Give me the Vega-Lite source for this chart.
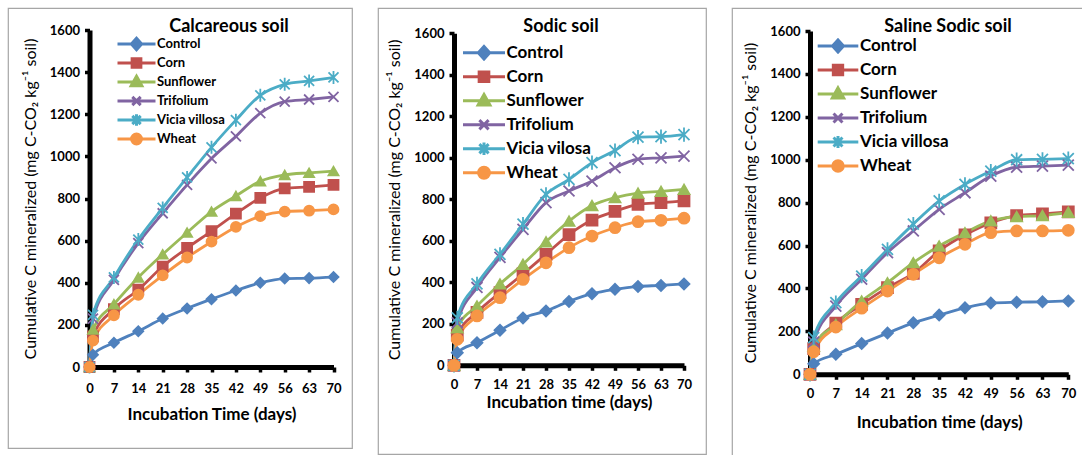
{
  "$schema": "https://vega.github.io/schema/vega-lite/v6.json",
  "padding": {"left": 7, "top": 7, "right": 0, "bottom": 0},
  "spacing": 24,
  "resolve": {"scale": {"color": "independent", "fill": "independent", "stroke": "independent", "shape": "independent"}, "legend": {"color": "independent", "fill": "independent", "stroke": "independent", "shape": "independent"}},
  "config": {
    "view": {"stroke": "#a6a6a6", "strokeWidth": 1.2},
    "font": "Lato",
    "axis": {"grid": false, "domain": true, "ticks": true, "labelFlush": false, "tickSize": 5, "domainColor": "#000000", "domainWidth": 5, "tickColor": "#000000", "tickWidth": 3.5, "labelColor": "#000000", "labelFont": "Lato", "labelFontWeight": "bold", "labelFontSize": 13, "titleColor": "#000000", "titleFont": "Lato"},
    "axisX": {"titleFontWeight": "bold", "titleFontSize": 17, "labelPadding": 8, "titlePadding": 9},
    "axisY": {"titleFontWeight": "normal", "titleFontSize": 16, "labelPadding": 5, "titlePadding": 11},
    "legend": {"labelFont": "Lato", "labelFontWeight": "bold", "labelColor": "#000000", "symbolStrokeWidth": 3, "symbolOpacity": 1, "padding": 0, "rowPadding": 0, "labelOffset": 0},
    "title": {"font": "Lato", "fontWeight": "bold", "color": "#000000", "fontSize": 18}
  },
  "datasets": {
    "calc": [
      {"d":0,"s":"Control","v":0},{"d":1,"s":"Control","v":58},{"d":7,"s":"Control","v":115},{"d":14,"s":"Control","v":170},{"d":21,"s":"Control","v":230},{"d":28,"s":"Control","v":278},{"d":35,"s":"Control","v":322},{"d":42,"s":"Control","v":363},{"d":49,"s":"Control","v":400},{"d":56,"s":"Control","v":420},{"d":63,"s":"Control","v":422},{"d":70,"s":"Control","v":427},
      {"d":0,"s":"Corn","v":0},{"d":1,"s":"Corn","v":145},{"d":7,"s":"Corn","v":275},{"d":14,"s":"Corn","v":367},{"d":21,"s":"Corn","v":477},{"d":28,"s":"Corn","v":565},{"d":35,"s":"Corn","v":645},{"d":42,"s":"Corn","v":728},{"d":49,"s":"Corn","v":803},{"d":56,"s":"Corn","v":848},{"d":63,"s":"Corn","v":855},{"d":70,"s":"Corn","v":865},
      {"d":0,"s":"Sunflower","v":0},{"d":1,"s":"Sunflower","v":178},{"d":7,"s":"Sunflower","v":298},{"d":14,"s":"Sunflower","v":425},{"d":21,"s":"Sunflower","v":535},{"d":28,"s":"Sunflower","v":638},{"d":35,"s":"Sunflower","v":738},{"d":42,"s":"Sunflower","v":812},{"d":49,"s":"Sunflower","v":882},{"d":56,"s":"Sunflower","v":912},{"d":63,"s":"Sunflower","v":922},{"d":70,"s":"Sunflower","v":930},
      {"d":0,"s":"Trifolium","v":0},{"d":1,"s":"Trifolium","v":230},{"d":7,"s":"Trifolium","v":414},{"d":14,"s":"Trifolium","v":588},{"d":21,"s":"Trifolium","v":730},{"d":28,"s":"Trifolium","v":865},{"d":35,"s":"Trifolium","v":990},{"d":42,"s":"Trifolium","v":1095},{"d":49,"s":"Trifolium","v":1205},{"d":56,"s":"Trifolium","v":1260},{"d":63,"s":"Trifolium","v":1270},{"d":70,"s":"Trifolium","v":1282},
      {"d":0,"s":"Vicia villosa","v":0},{"d":1,"s":"Vicia villosa","v":248},{"d":7,"s":"Vicia villosa","v":425},{"d":14,"s":"Vicia villosa","v":605},{"d":21,"s":"Vicia villosa","v":755},{"d":28,"s":"Vicia villosa","v":900},{"d":35,"s":"Vicia villosa","v":1043},{"d":42,"s":"Vicia villosa","v":1172},{"d":49,"s":"Vicia villosa","v":1290},{"d":56,"s":"Vicia villosa","v":1342},{"d":63,"s":"Vicia villosa","v":1358},{"d":70,"s":"Vicia villosa","v":1375},
      {"d":0,"s":"Wheat","v":0},{"d":1,"s":"Wheat","v":125},{"d":7,"s":"Wheat","v":245},{"d":14,"s":"Wheat","v":343},{"d":21,"s":"Wheat","v":435},{"d":28,"s":"Wheat","v":520},{"d":35,"s":"Wheat","v":595},{"d":42,"s":"Wheat","v":665},{"d":49,"s":"Wheat","v":716},{"d":56,"s":"Wheat","v":738},{"d":63,"s":"Wheat","v":742},{"d":70,"s":"Wheat","v":748}
    ],
    "sodic": [
      {"d":0,"s":"Control","v":0},{"d":1,"s":"Control","v":61},{"d":7,"s":"Control","v":109},{"d":14,"s":"Control","v":169},{"d":21,"s":"Control","v":228},{"d":28,"s":"Control","v":262},{"d":35,"s":"Control","v":308},{"d":42,"s":"Control","v":345},{"d":49,"s":"Control","v":366},{"d":56,"s":"Control","v":380},{"d":63,"s":"Control","v":385},{"d":70,"s":"Control","v":392},
      {"d":0,"s":"Corn","v":0},{"d":1,"s":"Corn","v":145},{"d":7,"s":"Corn","v":255},{"d":14,"s":"Corn","v":350},{"d":21,"s":"Corn","v":440},{"d":28,"s":"Corn","v":535},{"d":35,"s":"Corn","v":630},{"d":42,"s":"Corn","v":700},{"d":49,"s":"Corn","v":742},{"d":56,"s":"Corn","v":776},{"d":63,"s":"Corn","v":784},{"d":70,"s":"Corn","v":792},
      {"d":0,"s":"Sunflower","v":0},{"d":1,"s":"Sunflower","v":180},{"d":7,"s":"Sunflower","v":286},{"d":14,"s":"Sunflower","v":392},{"d":21,"s":"Sunflower","v":487},{"d":28,"s":"Sunflower","v":595},{"d":35,"s":"Sunflower","v":695},{"d":42,"s":"Sunflower","v":770},{"d":49,"s":"Sunflower","v":808},{"d":56,"s":"Sunflower","v":830},{"d":63,"s":"Sunflower","v":838},{"d":70,"s":"Sunflower","v":848},
      {"d":0,"s":"Trifolium","v":0},{"d":1,"s":"Trifolium","v":205},{"d":7,"s":"Trifolium","v":375},{"d":14,"s":"Trifolium","v":520},{"d":21,"s":"Trifolium","v":655},{"d":28,"s":"Trifolium","v":784},{"d":35,"s":"Trifolium","v":840},{"d":42,"s":"Trifolium","v":888},{"d":49,"s":"Trifolium","v":952},{"d":56,"s":"Trifolium","v":993},{"d":63,"s":"Trifolium","v":1000},{"d":70,"s":"Trifolium","v":1008},
      {"d":0,"s":"Vicia vilosa","v":0},{"d":1,"s":"Vicia vilosa","v":229},{"d":7,"s":"Vicia vilosa","v":392},{"d":14,"s":"Vicia vilosa","v":535},{"d":21,"s":"Vicia vilosa","v":680},{"d":28,"s":"Vicia vilosa","v":824},{"d":35,"s":"Vicia vilosa","v":896},{"d":42,"s":"Vicia vilosa","v":977},{"d":49,"s":"Vicia vilosa","v":1035},{"d":56,"s":"Vicia vilosa","v":1100},{"d":63,"s":"Vicia vilosa","v":1102},{"d":70,"s":"Vicia vilosa","v":1112},
      {"d":0,"s":"Wheat","v":0},{"d":1,"s":"Wheat","v":125},{"d":7,"s":"Wheat","v":238},{"d":14,"s":"Wheat","v":326},{"d":21,"s":"Wheat","v":414},{"d":28,"s":"Wheat","v":494},{"d":35,"s":"Wheat","v":567},{"d":42,"s":"Wheat","v":623},{"d":49,"s":"Wheat","v":663},{"d":56,"s":"Wheat","v":692},{"d":63,"s":"Wheat","v":699},{"d":70,"s":"Wheat","v":709}
    ],
    "saline": [
      {"d":0,"s":"Control","v":0},{"d":1,"s":"Control","v":49},{"d":7,"s":"Control","v":93},{"d":14,"s":"Control","v":143},{"d":21,"s":"Control","v":192},{"d":28,"s":"Control","v":240},{"d":35,"s":"Control","v":276},{"d":42,"s":"Control","v":310},{"d":49,"s":"Control","v":332},{"d":56,"s":"Control","v":336},{"d":63,"s":"Control","v":338},{"d":70,"s":"Control","v":342},
      {"d":0,"s":"Corn","v":0},{"d":1,"s":"Corn","v":120},{"d":7,"s":"Corn","v":238},{"d":14,"s":"Corn","v":326},{"d":21,"s":"Corn","v":404},{"d":28,"s":"Corn","v":470},{"d":35,"s":"Corn","v":575},{"d":42,"s":"Corn","v":650},{"d":49,"s":"Corn","v":706},{"d":56,"s":"Corn","v":740},{"d":63,"s":"Corn","v":748},{"d":70,"s":"Corn","v":757},
      {"d":0,"s":"Sunflower","v":0},{"d":1,"s":"Sunflower","v":130},{"d":7,"s":"Sunflower","v":232},{"d":14,"s":"Sunflower","v":342},{"d":21,"s":"Sunflower","v":427},{"d":28,"s":"Sunflower","v":520},{"d":35,"s":"Sunflower","v":598},{"d":42,"s":"Sunflower","v":660},{"d":49,"s":"Sunflower","v":715},{"d":56,"s":"Sunflower","v":735},{"d":63,"s":"Sunflower","v":740},{"d":70,"s":"Sunflower","v":755},
      {"d":0,"s":"Trifolium","v":0},{"d":1,"s":"Trifolium","v":150},{"d":7,"s":"Trifolium","v":318},{"d":14,"s":"Trifolium","v":443},{"d":21,"s":"Trifolium","v":567},{"d":28,"s":"Trifolium","v":668},{"d":35,"s":"Trifolium","v":769},{"d":42,"s":"Trifolium","v":846},{"d":49,"s":"Trifolium","v":924},{"d":56,"s":"Trifolium","v":965},{"d":63,"s":"Trifolium","v":970},{"d":70,"s":"Trifolium","v":975},
      {"d":0,"s":"Vicia villosa","v":0},{"d":1,"s":"Vicia villosa","v":171},{"d":7,"s":"Vicia villosa","v":334},{"d":14,"s":"Vicia villosa","v":458},{"d":21,"s":"Vicia villosa","v":582},{"d":28,"s":"Vicia villosa","v":700},{"d":35,"s":"Vicia villosa","v":808},{"d":42,"s":"Vicia villosa","v":885},{"d":49,"s":"Vicia villosa","v":947},{"d":56,"s":"Vicia villosa","v":1000},{"d":63,"s":"Vicia villosa","v":1002},{"d":70,"s":"Vicia villosa","v":1005},
      {"d":0,"s":"Wheat","v":0},{"d":1,"s":"Wheat","v":105},{"d":7,"s":"Wheat","v":220},{"d":14,"s":"Wheat","v":308},{"d":21,"s":"Wheat","v":388},{"d":28,"s":"Wheat","v":466},{"d":35,"s":"Wheat","v":543},{"d":42,"s":"Wheat","v":606},{"d":49,"s":"Wheat","v":660},{"d":56,"s":"Wheat","v":668},{"d":63,"s":"Wheat","v":668},{"d":70,"s":"Wheat","v":671}
    ]
  },
  "hconcat": [
    {
      "width": 344, "height": 440,
      "data": {"name": "calc"},
      "title": {"text": "Calcareous soil", "anchor": "middle", "frame": "group", "dx": 49, "offset": -28},
      "encoding": {
        "x": {"field": "d", "type": "quantitative", "scale": {"domain": [0, 70], "range": [81.5, 325.5], "nice": false, "zero": false},
              "axis": {"values": [0,7,14,21,28,35,42,49,56,63,70], "title": "Incubation Time (days)", "offset": -81, "labelPadding": 10, "titlePadding": 11}},
        "y": {"field": "v", "type": "quantitative", "scale": {"domain": [0, 1600], "range": [359, 22], "nice": false},
              "axis": {"values": [0,200,400,600,800,1000,1200,1400,1600], "format": "d", "title": "Cumulative C mineralized (mg C-CO₂ kg⁻¹ soil)", "offset": -81.5}}
      },
      "layer": [
        {"mark": {"type": "line", "interpolate": "monotone", "strokeWidth": 2.8},
         "encoding": {"color": {"field": "s", "type": "nominal", "legend": null, "scale": {"domain": ["Control","Corn","Sunflower","Trifolium","Vicia villosa","Wheat"], "range": ["#4F81BD","#C0504D","#9BBB59","#8064A2","#4BACC6","#F79646"]}}}},
        {"mark": {"type": "point", "filled": true, "opacity": 1, "strokeWidth": 1.8, "size": 100},
         "encoding": {
           "fill": {"field": "s", "type": "nominal", "legend": null, "scale": {"domain": ["Control","Corn","Sunflower","Trifolium","Vicia villosa","Wheat"], "range": ["#4F81BD","#C0504D","#9BBB59","#8064A2","#4BACC6","#F79646"]}},
           "stroke": {"field": "s", "type": "nominal", "legend": null, "scale": {"domain": ["Control","Corn","Sunflower","Trifolium","Vicia villosa","Wheat"], "range": ["#4F81BD","#C0504D","#9BBB59","#8064A2","#4BACC6","#F79646"]}},
           "shape": {"field": "s", "type": "nominal", "legend": null, "scale": {"domain": ["Control","Corn","Sunflower","Trifolium","Vicia villosa","Wheat"], "range": ["diamond","square","triangle-up","M-1,-1L1,1M-1,1L1,-1","M-1,-1L1,1M-1,1L1,-1M0,-1.3V1.3","circle"]}}
         }},
        {"mark": {"type": "point", "filled": true, "opacity": 0},
         "encoding": {
           "fill": {"field": "s", "type": "nominal", "scale": {"domain": ["Control","Corn","Sunflower","Trifolium","Vicia villosa","Wheat"], "range": ["#4F81BD","#C0504D","#9BBB59","#8064A2","#4BACC6","#F79646"]}, "legend": {"title": null, "orient": "none", "legendX": 108, "legendY": 26.8, "symbolSize": 1444, "clipHeight": 18.4, "labelFontSize": 13, "symbolOpacity": 1}},
           "stroke": {"field": "s", "type": "nominal", "scale": {"domain": ["Control","Corn","Sunflower","Trifolium","Vicia villosa","Wheat"], "range": ["#4F81BD","#C0504D","#9BBB59","#8064A2","#4BACC6","#F79646"]}, "legend": {"title": null, "orient": "none", "legendX": 108, "legendY": 26.8, "symbolSize": 1444, "clipHeight": 18.4, "labelFontSize": 13, "symbolOpacity": 1}},
           "shape": {"field": "s", "type": "nominal", "legend": {"title": null, "orient": "none", "legendX": 108, "legendY": 26.8, "symbolSize": 1444, "clipHeight": 18.4, "labelFontSize": 13, "symbolOpacity": 1},
                     "scale": {"domain": ["Control","Corn","Sunflower","Trifolium","Vicia villosa","Wheat"], "range": ["M-1,0H1M0,-0.3L0.27,0L0,0.3L-0.27,0Z","M-1,0H1M-0.23,-0.23H0.23V0.23H-0.23Z","M-1,0H1M0,-0.3L0.28,0.2L-0.28,0.2Z","M-1,0H1M-0.22,-0.22L0.22,0.22M-0.22,0.22L0.22,-0.22","M-1,0H1M-0.22,-0.22L0.22,0.22M-0.22,0.22L0.22,-0.22M0,-0.3V0.3","M-1,0H1M0.26,0A0.26,0.26,0,1,1,-0.26,0A0.26,0.26,0,1,1,0.26,0Z"]}}
         }}
      ],
      "resolve": {"scale": {"fill": "independent", "stroke": "independent", "shape": "independent"}}
    },
    {
      "width": 328, "height": 446,
      "data": {"name": "sodic"},
      "title": {"text": "Sodic soil", "anchor": "middle", "frame": "group", "dx": 19, "offset": -28},
      "encoding": {
        "x": {"field": "d", "type": "quantitative", "scale": {"domain": [0, 70], "range": [76, 306], "nice": false, "zero": false},
              "axis": {"values": [0,7,14,21,28,35,42,49,56,63,70], "title": "Incubation time (days)", "offset": -88.7, "titlePadding": 3}},
        "y": {"field": "v", "type": "quantitative", "scale": {"domain": [0, 1600], "range": [357.3, 25.3], "nice": false},
              "axis": {"values": [0,200,400,600,800,1000,1200,1400,1600], "format": "d", "title": "Cumulative C mineralized (mg C-CO₂ kg⁻¹ soil)", "offset": -76}}
      },
      "layer": [
        {"mark": {"type": "line", "interpolate": "monotone", "strokeWidth": 2.8},
         "encoding": {"color": {"field": "s", "type": "nominal", "legend": null, "scale": {"domain": ["Control","Corn","Sunflower","Trifolium","Vicia vilosa","Wheat"], "range": ["#4F81BD","#C0504D","#9BBB59","#8064A2","#4BACC6","#F79646"]}}}},
        {"mark": {"type": "point", "filled": true, "opacity": 1, "strokeWidth": 1.8, "size": 120},
         "encoding": {
           "fill": {"field": "s", "type": "nominal", "legend": null, "scale": {"domain": ["Control","Corn","Sunflower","Trifolium","Vicia vilosa","Wheat"], "range": ["#4F81BD","#C0504D","#9BBB59","#8064A2","#4BACC6","#F79646"]}},
           "stroke": {"field": "s", "type": "nominal", "legend": null, "scale": {"domain": ["Control","Corn","Sunflower","Trifolium","Vicia vilosa","Wheat"], "range": ["#4F81BD","#C0504D","#9BBB59","#8064A2","#4BACC6","#F79646"]}},
           "shape": {"field": "s", "type": "nominal", "legend": null, "scale": {"domain": ["Control","Corn","Sunflower","Trifolium","Vicia vilosa","Wheat"], "range": ["diamond","square","triangle-up","M-1,-1L1,1M-1,1L1,-1","M-1,-1L1,1M-1,1L1,-1M0,-1.3V1.3","circle"]}}
         }},
        {"mark": {"type": "point", "filled": true, "opacity": 0},
         "encoding": {
           "fill": {"field": "s", "type": "nominal", "scale": {"domain": ["Control","Corn","Sunflower","Trifolium","Vicia vilosa","Wheat"], "range": ["#4F81BD","#C0504D","#9BBB59","#8064A2","#4BACC6","#F79646"]}, "legend": {"title": null, "orient": "none", "legendX": 83.5, "legendY": 32.9, "symbolSize": 1764, "clipHeight": 23.7, "labelFontSize": 17, "symbolOpacity": 1}},
           "stroke": {"field": "s", "type": "nominal", "scale": {"domain": ["Control","Corn","Sunflower","Trifolium","Vicia vilosa","Wheat"], "range": ["#4F81BD","#C0504D","#9BBB59","#8064A2","#4BACC6","#F79646"]}, "legend": {"title": null, "orient": "none", "legendX": 83.5, "legendY": 32.9, "symbolSize": 1764, "clipHeight": 23.7, "labelFontSize": 17, "symbolOpacity": 1}},
           "shape": {"field": "s", "type": "nominal", "legend": {"title": null, "orient": "none", "legendX": 83.5, "legendY": 32.9, "symbolSize": 1764, "clipHeight": 23.7, "labelFontSize": 17, "symbolOpacity": 1},
                     "scale": {"domain": ["Control","Corn","Sunflower","Trifolium","Vicia vilosa","Wheat"], "range": ["M-1,0H1M0,-0.3L0.27,0L0,0.3L-0.27,0Z","M-1,0H1M-0.23,-0.23H0.23V0.23H-0.23Z","M-1,0H1M0,-0.3L0.28,0.2L-0.28,0.2Z","M-1,0H1M-0.22,-0.22L0.22,0.22M-0.22,0.22L0.22,-0.22","M-1,0H1M-0.22,-0.22L0.22,0.22M-0.22,0.22L0.22,-0.22M0,-0.3V0.3","M-1,0H1M0.26,0A0.26,0.26,0,1,1,-0.26,0A0.26,0.26,0,1,1,0.26,0Z"]}}
         }}
      ],
      "resolve": {"scale": {"fill": "independent", "stroke": "independent", "shape": "independent"}}
    },
    {
      "width": 360, "height": 460,
      "data": {"name": "saline"},
      "title": {"text": "Saline Sodic soil", "anchor": "middle", "frame": "group", "dx": 36, "offset": -28},
      "encoding": {
        "x": {"field": "d", "type": "quantitative", "scale": {"domain": [0, 70], "range": [78, 336.3], "nice": false, "zero": false},
              "axis": {"values": [0,7,14,21,28,35,42,49,56,63,70], "title": "Incubation time (days)", "offset": -93.7, "titlePadding": 14}},
        "y": {"field": "v", "type": "quantitative", "scale": {"domain": [0, 1600], "range": [366.3, 23], "nice": false},
              "axis": {"values": [0,200,400,600,800,1000,1200,1400,1600], "format": "d", "title": "Cumulative C mineralized (mg C-CO₂ kg⁻¹ soil)", "offset": -78}}
      },
      "layer": [
        {"mark": {"type": "line", "interpolate": "monotone", "strokeWidth": 2.8},
         "encoding": {"color": {"field": "s", "type": "nominal", "legend": null, "scale": {"domain": ["Control","Corn","Sunflower","Trifolium","Vicia villosa","Wheat"], "range": ["#4F81BD","#C0504D","#9BBB59","#8064A2","#4BACC6","#F79646"]}}}},
        {"mark": {"type": "point", "filled": true, "opacity": 1, "strokeWidth": 1.8, "size": 120},
         "encoding": {
           "fill": {"field": "s", "type": "nominal", "legend": null, "scale": {"domain": ["Control","Corn","Sunflower","Trifolium","Vicia villosa","Wheat"], "range": ["#4F81BD","#C0504D","#9BBB59","#8064A2","#4BACC6","#F79646"]}},
           "stroke": {"field": "s", "type": "nominal", "legend": null, "scale": {"domain": ["Control","Corn","Sunflower","Trifolium","Vicia villosa","Wheat"], "range": ["#4F81BD","#C0504D","#9BBB59","#8064A2","#4BACC6","#F79646"]}},
           "shape": {"field": "s", "type": "nominal", "legend": null, "scale": {"domain": ["Control","Corn","Sunflower","Trifolium","Vicia villosa","Wheat"], "range": ["diamond","square","triangle-up","M-1,-1L1,1M-1,1L1,-1","M-1,-1L1,1M-1,1L1,-1M0,-1.3V1.3","circle"]}}
         }},
        {"mark": {"type": "point", "filled": true, "opacity": 0},
         "encoding": {
           "fill": {"field": "s", "type": "nominal", "scale": {"domain": ["Control","Corn","Sunflower","Trifolium","Vicia villosa","Wheat"], "range": ["#4F81BD","#C0504D","#9BBB59","#8064A2","#4BACC6","#F79646"]}, "legend": {"title": null, "orient": "none", "legendX": 84, "legendY": 26.1, "symbolSize": 1650, "clipHeight": 23.8, "labelFontSize": 17, "symbolOpacity": 1}},
           "stroke": {"field": "s", "type": "nominal", "scale": {"domain": ["Control","Corn","Sunflower","Trifolium","Vicia villosa","Wheat"], "range": ["#4F81BD","#C0504D","#9BBB59","#8064A2","#4BACC6","#F79646"]}, "legend": {"title": null, "orient": "none", "legendX": 84, "legendY": 26.1, "symbolSize": 1650, "clipHeight": 23.8, "labelFontSize": 17, "symbolOpacity": 1}},
           "shape": {"field": "s", "type": "nominal", "legend": {"title": null, "orient": "none", "legendX": 84, "legendY": 26.1, "symbolSize": 1650, "clipHeight": 23.8, "labelFontSize": 17, "symbolOpacity": 1},
                     "scale": {"domain": ["Control","Corn","Sunflower","Trifolium","Vicia villosa","Wheat"], "range": ["M-1,0H1M0,-0.3L0.27,0L0,0.3L-0.27,0Z","M-1,0H1M-0.23,-0.23H0.23V0.23H-0.23Z","M-1,0H1M0,-0.3L0.28,0.2L-0.28,0.2Z","M-1,0H1M-0.22,-0.22L0.22,0.22M-0.22,0.22L0.22,-0.22","M-1,0H1M-0.22,-0.22L0.22,0.22M-0.22,0.22L0.22,-0.22M0,-0.3V0.3","M-1,0H1M0.26,0A0.26,0.26,0,1,1,-0.26,0A0.26,0.26,0,1,1,0.26,0Z"]}}
         }}
      ],
      "resolve": {"scale": {"fill": "independent", "stroke": "independent", "shape": "independent"}}
    }
  ]
}
